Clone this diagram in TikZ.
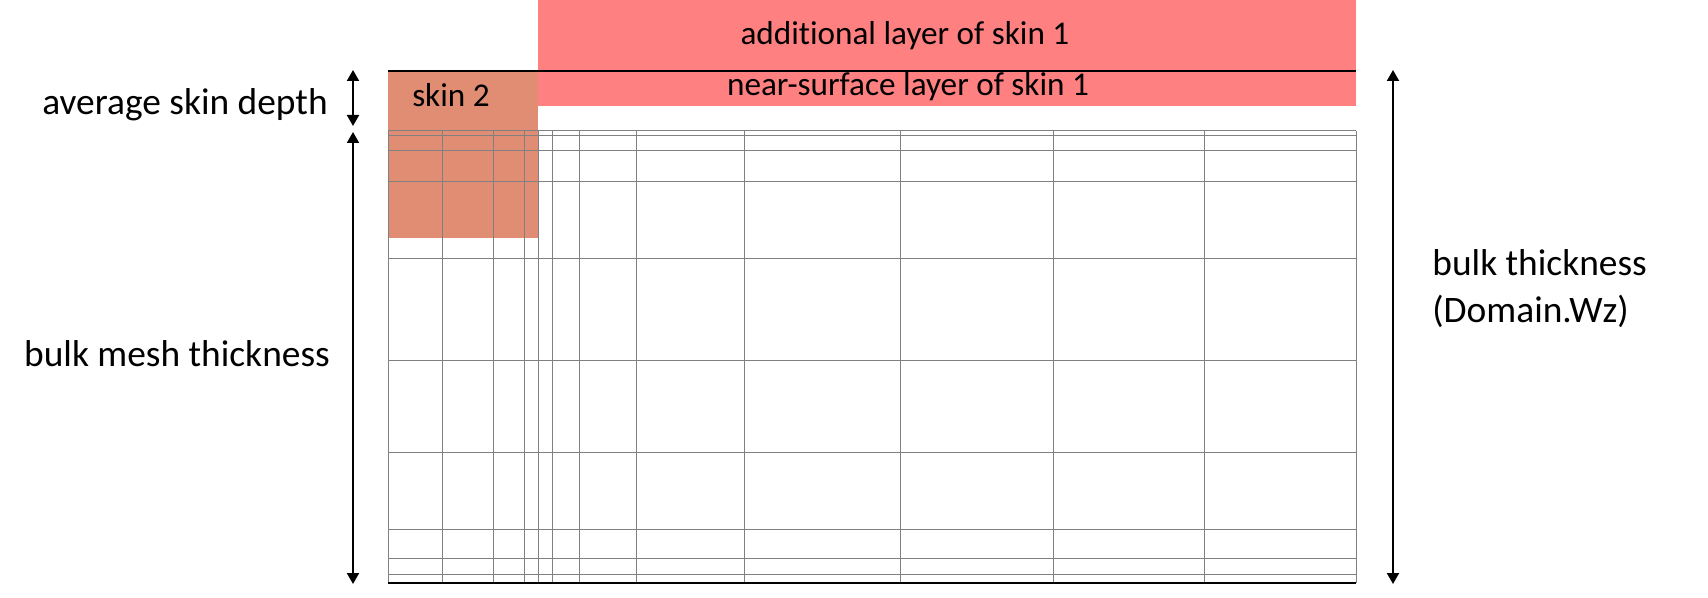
\documentclass[tikz,border=0pt]{standalone}
\usepackage{fontspec}
\setmainfont{Carlito}[Ligatures=NoCommon]
\usetikzlibrary{arrows.meta}
\definecolor{skinone}{RGB}{255,128,128}
\definecolor{skintwo}{RGB}{224,141,116}

\begin{document}
\begin{tikzpicture}[x=0.5pt, y=-0.5pt,
  lbl/.style={font=\fontsize{18.7}{23.5}\selectfont, inner sep=0pt},
  layerlbl/.style={font=\fontsize{16.6}{20}\selectfont, inner sep=0pt},
  meshline/.style={draw=gray, line width=0.5pt},
  surface/.style={line width=1pt},
  dim/.style={{Triangle[width=6pt,length=5.5pt]}-{Triangle[width=6pt,length=5.5pt]}, line width=1pt}]

\useasboundingbox (0,0) rectangle (1708,598);

\def \left {388}
\def \right {1356}
\def \top {131}
\def \bottom {583}

% skin layers
\fill[skinone] (538,0) rectangle (\right,106);
\fill[skintwo] (\left,71) rectangle (538,238);

% graded mesh
\foreach \x in {388,442,493,524,538,552,579,636,744,900,1053,1204,1356}
  \draw[meshline] (\x,\top) -- (\x,\bottom);
\foreach \y in {131,136,151,182,259,361,453,529,558,574}
  \draw[meshline] (\left,\y) -- (\right,\y);

\draw[surface] (\left,71) -- (\right,71);
\draw[surface] (\left,\bottom) -- (\right,\bottom);

% labels
\node[layerlbl, anchor=base] (addlayer) at (905,45) {additional layer of skin 1};
\node[layerlbl, anchor=base] (nearlayer) at (908,96) {near-surface layer of skin 1};
\node[layerlbl, anchor=base] (skintwolbl) at (451,107) {skin 2};
\node[lbl, anchor=base] (depthlbl) at (185,115) {average skin depth};
\node[lbl, anchor=base] (meshlbl) at (177,367) {bulk mesh thickness};
\node[lbl, anchor=base west, align=left] (bulklbl) at (1432,323) {bulk thickness\\(Domain.Wz)};

% dimension arrows
\coordinate (depthtop) at (353,70);
\coordinate (depthbot) at (353,126);
\coordinate (meshtop) at (353,132);
\coordinate (meshbot) at (353,584);
\coordinate (bulktop) at (1393,70);
\coordinate (bulkbot) at (1393,584);

\draw[dim] (depthtop) -- (depthbot);
\draw[dim] (meshtop) -- (meshbot);
\draw[dim] (bulktop) -- (bulkbot);

\end{tikzpicture}
\end{document}
